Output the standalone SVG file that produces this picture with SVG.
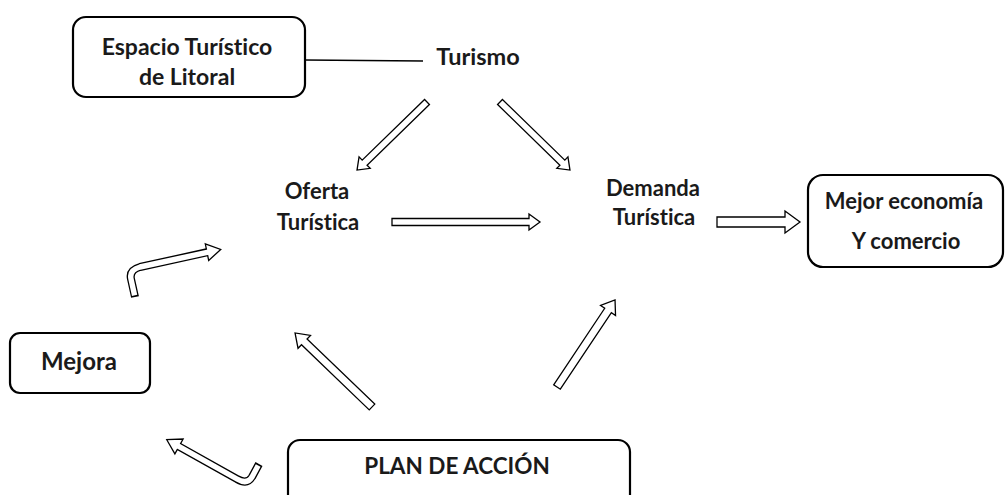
<svg xmlns="http://www.w3.org/2000/svg" width="1005" height="495" viewBox="0 0 1005 495">
<style>
.box{fill:#fff;stroke:#000;stroke-width:2.2}
.t{font-family:Lato,"Open Sans","Liberation Sans",sans-serif;font-weight:bold;fill:#1a1a1a;text-anchor:middle;font-variant-ligatures:none;font-feature-settings:"liga" 0}
.arr{fill:#fff;stroke:#000;stroke-width:1.3;stroke-linejoin:miter}
.bk{fill:none;stroke:#000;stroke-width:8;stroke-linejoin:round}
.wh{fill:none;stroke:#fff;stroke-width:5.4;stroke-linejoin:round}
</style>
<rect width="1005" height="495" fill="#fff"/>
<g id="espacio">
<rect class="box" x="73" y="17" width="232" height="80" rx="13"/>
<text class="t" x="187" y="55" font-size="23">Espacio Turístico</text>
<text class="t" x="187" y="85" font-size="23">de Litoral</text>
</g>
<g id="turismo"><text class="t" x="478" y="65" font-size="23.5">Turismo</text></g>
<g id="oferta">
<text class="t" x="317" y="199" font-size="22">Oferta</text>
<text class="t" x="318" y="230" font-size="22">Turística</text>
</g>
<g id="demanda">
<text class="t" x="653" y="196" font-size="22">Demanda</text>
<text class="t" x="654" y="225" font-size="22">Turística</text>
</g>
<g id="mejor">
<rect class="box" x="808" y="175" width="195" height="92" rx="15" stroke-width="1.5"/>
<text class="t" x="904" y="209" font-size="22">Mejor economía</text>
<text class="t" x="906" y="249" font-size="22">Y comercio</text>
</g>
<g id="mejora">
<rect class="box" x="10" y="333" width="140" height="60" rx="10"/>
<text class="t" x="79" y="370" font-size="24">Mejora</text>
</g>
<g id="plan">
<rect class="box" x="288" y="440" width="342" height="70" rx="12"/>
<text class="t" x="457" y="474" font-size="22.5">PLAN DE ACCIÓN</text>
</g>
<g id="connectors">
<line x1="305" y1="60" x2="423" y2="61" stroke="#000" stroke-width="1.3"/>
<polygon class="arr" transform="translate(427,102) rotate(135.8)" points="0,-3.5 87,-3.5 87,-8 97.6,0 87,8 87,3.5 0,3.5"/>
<polygon class="arr" transform="translate(500,102) rotate(44.2)" points="0,-3.5 87,-3.5 87,-8 97.6,0 87,8 87,3.5 0,3.5"/>
<polygon class="arr" transform="translate(392,222)" points="0,-3.5 137,-3.5 137,-8 148,0 137,8 137,3.5 0,3.5"/>
<polygon class="arr" transform="translate(717,222)" points="0,-5 68,-5 68,-11 83,0 68,11 68,5 0,5"/>
<polygon class="arr" transform="translate(372,407) rotate(-136.1)" points="0,-4 94,-4 94,-9 106.8,0 94,9 94,4 0,4"/>
<polygon class="arr" transform="translate(557,387) rotate(-56.3)" points="0,-4 92,-4 92,-9 104.6,0 92,9 92,4 0,4"/>
<path class="bk" d="M135,297 L131,279 Q129,270 140,267 L208,252"/>
<polygon class="arr" transform="translate(207,252.2) rotate(-11.5)" points="0,-8.5 14,0 0,8.5"/>
<path class="wh" d="M134.6,295.4 L131,279 Q129,270 140,267 L209.5,251.8"/>
<path class="bk" d="M259,464 L252,477 Q247,485 237,479 L178,446"/>
<polygon class="arr" transform="translate(179,446.5) rotate(-151)" points="0,-8.5 14,0 0,8.5"/>
<path class="wh" d="M258.2,465.4 L252,477 Q247,485 237,479 L177,445.4"/>
</g>
</svg>
